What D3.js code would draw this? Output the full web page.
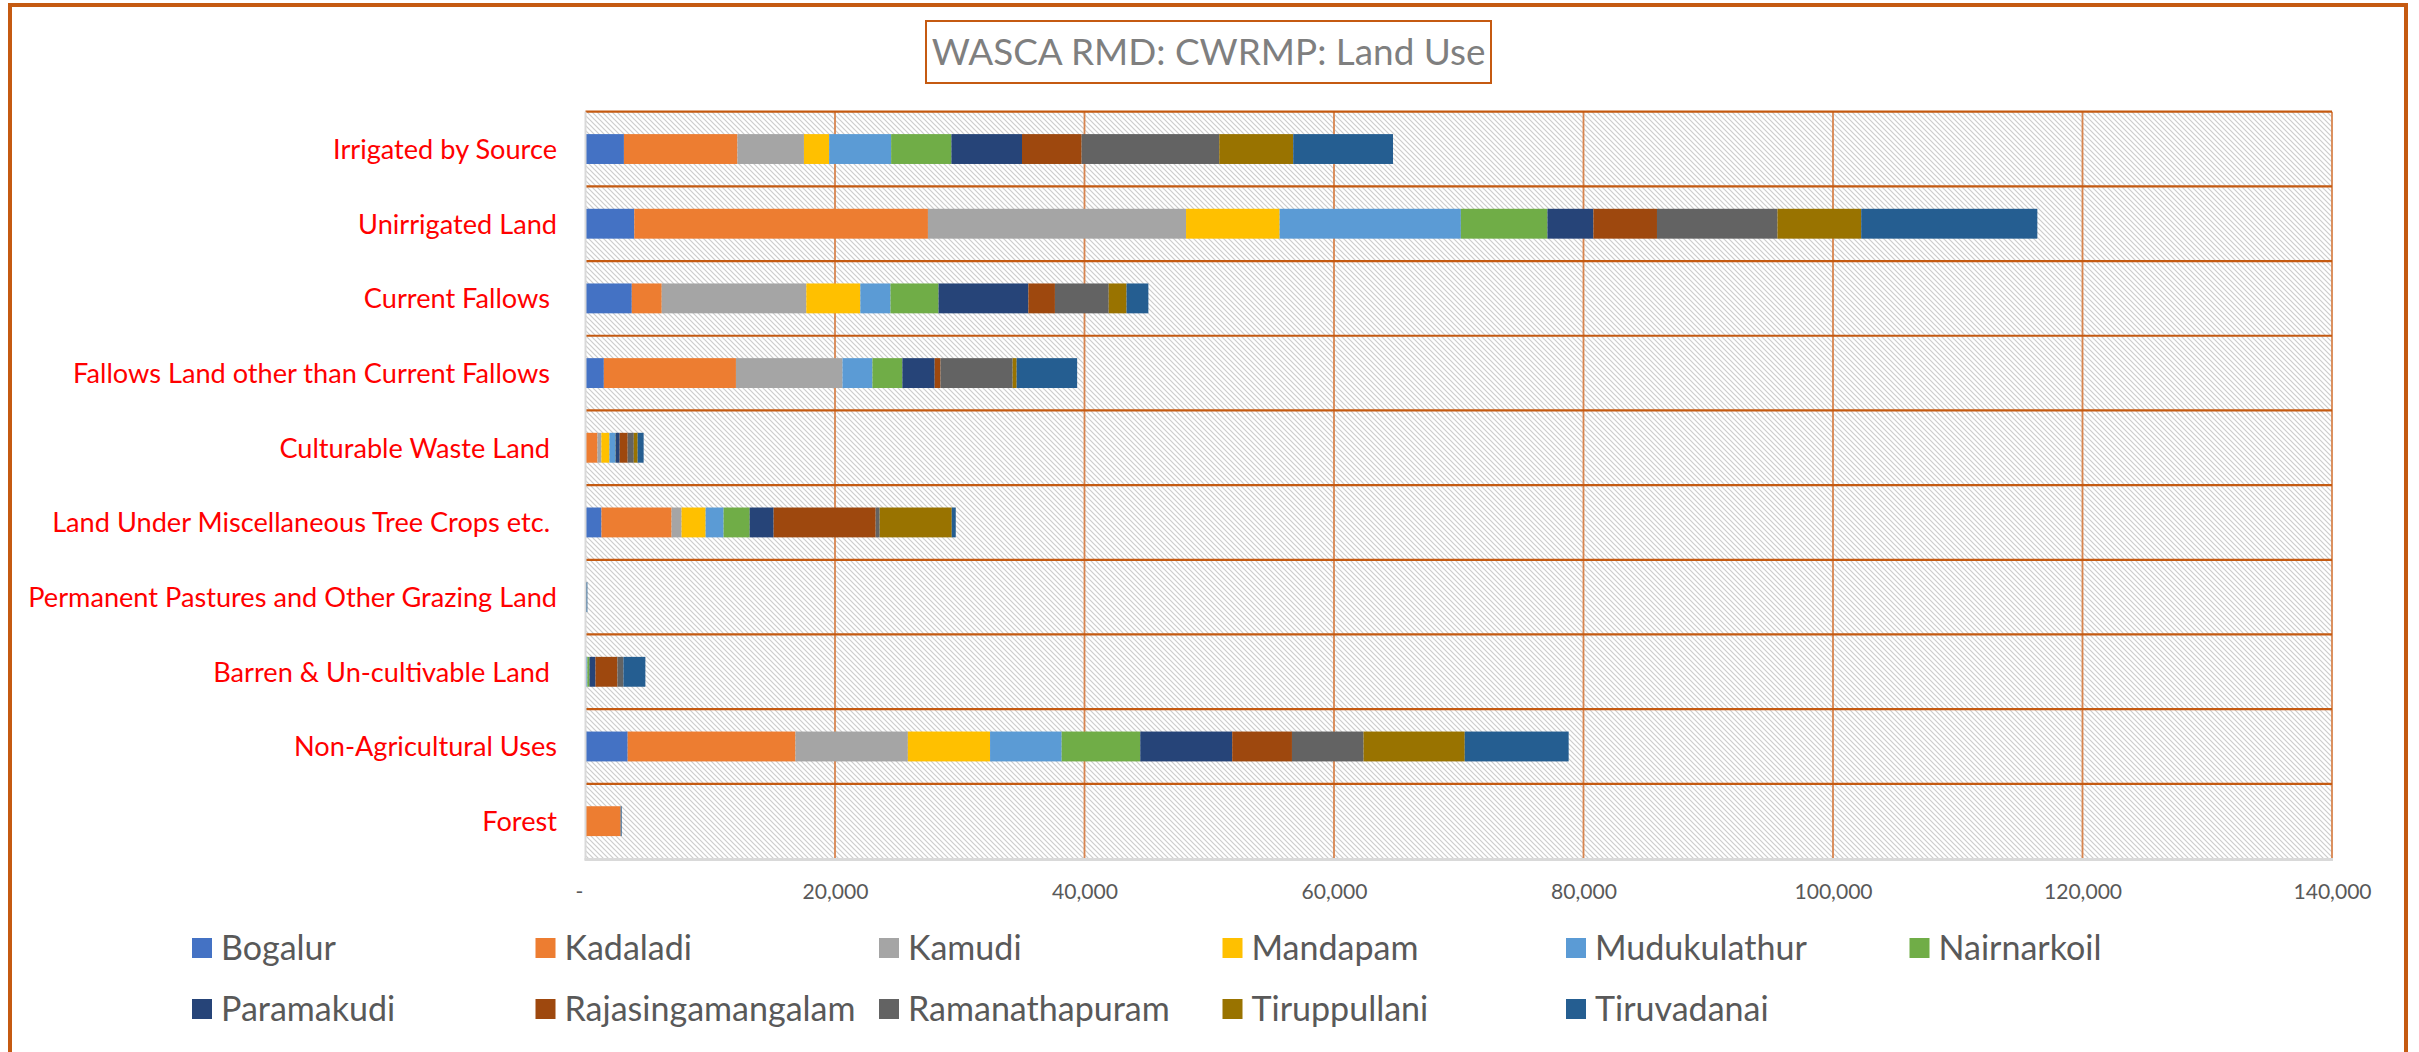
<!DOCTYPE html>
<html><head><meta charset="utf-8">
<script src="https://cdn.jsdelivr.net/npm/d3@7"></script>
<style>
html,body{margin:0;padding:0;background:#fff;overflow:hidden}
svg text{white-space:pre}
</style></head><body>
<svg id="chart" width="2419" height="1052"></svg>
<script>
// ---------- DATA ----------
const chartTitle = "WASCA RMD: CWRMP: Land Use";
const categories = [
  "Irrigated by Source",
  "Unirrigated Land",
  "Current Fallows ",
  "Fallows Land other than Current Fallows ",
  "Culturable Waste Land ",
  "Land Under Miscellaneous Tree Crops etc. ",
  "Permanent Pastures and Other Grazing Land",
  "Barren & Un-cultivable Land ",
  "Non-Agricultural Uses",
  "Forest"
];
const seriesNames = ["Bogalur","Kadaladi","Kamudi","Mandapam","Mudukulathur","Nairnarkoil",
  "Paramakudi","Rajasingamangalam","Ramanathapuram","Tiruppullani","Tiruvadanai"];
const bogalur           = [3080,  3910,  3710,  1470,   0, 1280,   0,    0,  3380,    0];
const kadaladi          = [9100, 23540,  2400, 10590, 960, 5620,   0,    0, 13450, 2820];
const kamudi            = [5330, 20690, 11590,  8540, 310,  800,   0,    0,  9010,    0];
const mandapam          = [2020,  7500,  4330,     0, 650, 1930,   0,    0,  6590,    0];
const mudukulathur      = [4970, 14530,  2420,  2400, 470, 1440,   0,  150,  5740,    0];
const nairnarkoil       = [4830,  6940,  3850,  2400,  20, 2090,   0,  170,  6300,    0];
const paramakudi        = [5660,  3680,  7200,  2590, 330, 1920,   0,  480,  7370,    0];
const rajasingamangalam = [4780,  5100,  2130,   470, 640, 8180,   0, 1760,  4790,    0];
const ramanathapuram    = [11030, 9660,  4310,  5780, 490,  320,   0,  480,  5740,    0];
const tiruppullani      = [5930,  6710,  1430,   320, 310, 5780,   0,    0,  8110,    0];
const tiruvadanai       = [8000, 14120,  1750,  4850, 480,  320, 150, 1760,  8330,   80];
const seriesValues = [bogalur,kadaladi,kamudi,mandapam,mudukulathur,nairnarkoil,
  paramakudi,rajasingamangalam,ramanathapuram,tiruppullani,tiruvadanai];
const tickValues = [0,20000,40000,60000,80000,100000,120000,140000];
const tickLabels = ["-","20,000","40,000","60,000","80,000","100,000","120,000","140,000"];

// ---------- STYLE ----------
const seriesColors = ["#4472C4","#ED7D31","#A5A5A5","#FFC000","#5B9BD5","#70AD47",
  "#264478","#9E480E","#636363","#997300","#255E91"];
const FONT = "Lato, 'Open Sans', sans-serif";
const ORANGE = "#C55A11";

const svg = d3.select("#chart");

function fitSize(txt, target){
  const t = svg.append("text").attr("font-family", FONT).attr("font-size", 100).text(txt);
  const w = t.node().getComputedTextLength();
  t.remove();
  return 100 * target / w;
}
const titleSize  = fitSize(chartTitle, 554);
const catSize    = fitSize("Permanent Pastures and Other Grazing Land", 529);
const legendSize = fitSize("Bogalur", 115);
const tickSize   = fitSize("20,000", 66);

// pattern
const defs = svg.append("defs");
const pat = defs.append("pattern").attr("id","hatch").attr("patternUnits","userSpaceOnUse")
  .attr("width",5).attr("height",5);
pat.append("rect").attr("width",5).attr("height",5).attr("fill","#fff");
pat.append("path").attr("d","M-1,-1 L6,6 M4,-1 L6,1 M-1,4 L1,6")
  .attr("stroke","#cdcdcd").attr("stroke-width",1.2);

// outer border
svg.append("rect").attr("x",10).attr("y",5).attr("width",2396).attr("height",1100)
  .attr("fill","none").attr("stroke",ORANGE).attr("stroke-width",4);

// title
svg.append("rect").attr("x",926).attr("y",21).attr("width",565).attr("height",62)
  .attr("fill","#fff").attr("stroke",ORANGE).attr("stroke-width",2);
svg.append("text").attr("x",1208.5).attr("y",52).attr("dy","0.36em")
  .attr("text-anchor","middle").attr("font-family",FONT).attr("font-size",titleSize)
  .attr("fill","#7F7F7F").text(chartTitle);

// scales
const x = d3.scaleLinear().domain([0,140000]).range([585.5, 2332]);
const y = d3.scaleBand().domain(categories).range([111.7, 858.5]).paddingInner(0.6).paddingOuter(0.3);
const [plotTop, plotBottom] = y.range();
const gap = (y.step() - y.bandwidth())/2;

// plot background
svg.append("rect").attr("x",x(0)).attr("y",plotTop).attr("width",x(140000)-x(0)).attr("height",plotBottom-plotTop)
  .attr("fill","url(#hatch)");

// vertical gridlines
svg.append("g").selectAll("line").data(tickValues.slice(1)).join("line")
  .attr("x1",d=>x(d)).attr("x2",d=>x(d)).attr("y1",plotTop).attr("y2",plotBottom)
  .attr("stroke","#D8854F").attr("stroke-width",1.8);

// category separators
svg.append("g").selectAll("line").data(categories).join("line")
  .attr("x1",x(0)).attr("x2",x(140000))
  .attr("y1",d=>y(d)-gap).attr("y2",d=>y(d)-gap)
  .attr("stroke",ORANGE).attr("stroke-width",2.2);

// stacked bars
const rows = categories.map((c,i)=>{const o={category:c}; seriesNames.forEach((s,j)=>o[s]=seriesValues[j][i]); return o;});
const stacked = d3.stack().keys(seriesNames)(rows);
svg.append("g").selectAll("g").data(stacked).join("g")
  .attr("fill",(d,i)=>seriesColors[i])
  .selectAll("rect").data(d=>d).join("rect")
  .attr("x",d=>x(d[0])).attr("width",d=>Math.max(0,x(d[1])-x(d[0])))
  .attr("y",d=>y(d.data.category)).attr("height",y.bandwidth());

// axis lines
svg.append("line").attr("x1",x(0)).attr("x2",x(0)).attr("y1",plotTop).attr("y2",plotBottom+1.5)
  .attr("stroke","#D9D9D9").attr("stroke-width",2);
svg.append("line").attr("x1",x(0)-1).attr("x2",x(140000)+1).attr("y1",plotBottom+1).attr("y2",plotBottom+1)
  .attr("stroke","#D9D9D9").attr("stroke-width",3);

// x axis labels
const xAxis = d3.axisBottom(x).tickValues(tickValues).tickFormat((d,i)=>tickLabels[i]).tickSize(0).tickPadding(0);
const gx = svg.append("g").attr("transform",`translate(0,891)`).call(xAxis);
gx.select(".domain").remove();
gx.selectAll("text").attr("font-family",FONT).attr("font-size",tickSize).attr("fill","#595959")
  .attr("y",0).attr("dy","0.36em")
  .attr("dx",(d)=>d===0?-6.5:0);

// y axis labels
const yAxis = d3.axisLeft(y).tickSize(0).tickPadding(28.5);
const gy = svg.append("g").attr("transform",`translate(${x(0)},0)`).call(yAxis);
gy.select(".domain").remove();
gy.selectAll("text").attr("font-family",FONT).attr("font-size",catSize).attr("fill","#FF0000")
  .attr("dy","0.36em");

// legend
const legend = svg.append("g");
const item = legend.selectAll("g").data(seriesNames).join("g")
  .attr("transform",(d,i)=>`translate(${192 + (i%6)*343.5},${i<6?948:1009})`);
item.append("rect").attr("x",0).attr("y",-10).attr("width",20).attr("height",20)
  .attr("fill",(d,i)=>seriesColors[i]);
item.append("text").attr("x",29).attr("y",0).attr("dy","0.36em")
  .attr("font-family",FONT).attr("font-size",legendSize).attr("fill","#595959").text(d=>d);
</script>
</body></html>
